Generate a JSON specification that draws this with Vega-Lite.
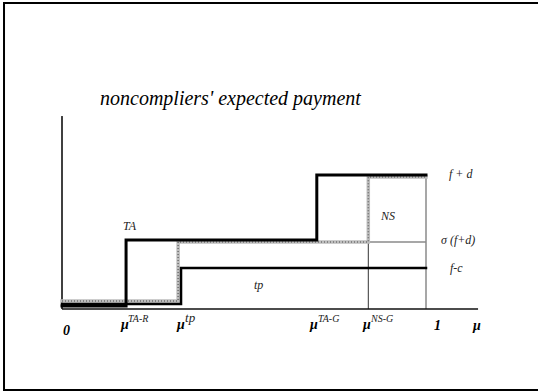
{
  "$schema": "https://vega.github.io/schema/vega-lite/v6.json",
  "width": 538,
  "height": 392,
  "autosize": "none",
  "padding": 0,
  "background": "white",
  "config": {"view": {"stroke": null}},
  "datasets": {
    "paths": [
      {"s": "TA", "i": 1, "mu": 0, "v": 0.022},
      {"s": "TA", "i": 2, "mu": 0.176, "v": 0.022},
      {"s": "TA", "i": 3, "mu": 0.176, "v": 0.515},
      {"s": "TA", "i": 4, "mu": 0.70, "v": 0.515},
      {"s": "TA", "i": 5, "mu": 0.70, "v": 1.0},
      {"s": "TA", "i": 6, "mu": 1.0, "v": 1.0},
      {"s": "NS", "i": 1, "mu": 0, "v": 0.06},
      {"s": "NS", "i": 2, "mu": 0.319, "v": 0.06},
      {"s": "NS", "i": 3, "mu": 0.319, "v": 0.5},
      {"s": "NS", "i": 4, "mu": 0.8415, "v": 0.5},
      {"s": "NS", "i": 5, "mu": 0.8415, "v": 0.985},
      {"s": "NS", "i": 6, "mu": 1.0, "v": 0.985},
      {"s": "tp", "i": 1, "mu": 0, "v": 0.037},
      {"s": "tp", "i": 2, "mu": 0.327, "v": 0.037},
      {"s": "tp", "i": 3, "mu": 0.327, "v": 0.306},
      {"s": "tp", "i": 4, "mu": 1.0, "v": 0.306}
    ],
    "guides": [
      {"g": "yaxis", "mu": 0, "mu2": 0, "v": 0, "v2": 1.44},
      {"g": "xaxis", "mu": 0, "mu2": 1.143, "v": 0, "v2": 0},
      {"g": "nsg", "mu": 0.8415, "mu2": 0.8415, "v": 0, "v2": 0.5},
      {"g": "sigma", "mu": 0.8415, "mu2": 1.0, "v": 0.5, "v2": 0.5},
      {"g": "one", "mu": 1.0, "mu2": 1.0, "v": 0, "v2": 1.0}
    ],
    "frame": [
      {"mu": -0.1593, "mu2": 1.36, "v": 2.2836, "v2": -0.6045}
    ],
    "labels": [
      {"t": "noncompliers' expected payment", "k": "title", "mu": 0.1044, "v": 1.5224},
      {"t": "TA", "k": "lab", "mu": 0.1676, "v": 0.5896},
      {"t": "NS", "k": "lab", "mu": 0.8764, "v": 0.664},
      {"t": "tp", "k": "lab", "mu": 0.5275, "v": 0.149},
      {"t": "f + d", "k": "lab", "mu": 1.0632, "v": 0.9776},
      {"t": "σ (f+d)", "k": "lab", "mu": 1.0412, "v": 0.485},
      {"t": "f-c", "k": "lab", "mu": 1.066, "v": 0.276},
      {"t": "0", "k": "big", "mu": 0.00275, "v": -0.194},
      {"t": "μ", "k": "big", "mu": 0.162, "v": -0.149},
      {"t": "TA-R", "k": "sup", "mu": 0.1813, "v": -0.097},
      {"t": "μ", "k": "big", "mu": 0.316, "v": -0.149},
      {"t": "tp", "k": "supl", "mu": 0.338, "v": -0.097},
      {"t": "μ", "k": "big", "mu": 0.681, "v": -0.149},
      {"t": "TA-G", "k": "sup", "mu": 0.703, "v": -0.097},
      {"t": "μ", "k": "big", "mu": 0.827, "v": -0.149},
      {"t": "NS-G", "k": "sup", "mu": 0.849, "v": -0.097},
      {"t": "1", "k": "big", "mu": 1.022, "v": -0.157},
      {"t": "μ", "k": "big", "mu": 1.129, "v": -0.157}
    ]
  },
  "encoding": {
    "x": {"field": "mu", "type": "quantitative", "scale": {"domain": [-0.17033, 1.30769], "nice": false, "zero": false}, "axis": null},
    "y": {"field": "v", "type": "quantitative", "scale": {"domain": [-0.6194, 2.30597], "nice": false, "zero": false}, "axis": null}
  },
  "layer": [
    {
      "data": {"name": "frame"},
      "mark": {"type": "rect", "fill": null, "stroke": "black", "strokeWidth": 2, "clip": false},
      "encoding": {"x2": {"field": "mu2"}, "y2": {"field": "v2"}}
    },
    {
      "data": {"name": "guides"},
      "transform": [{"filter": "datum.g === 'nsg'"}],
      "mark": {"type": "rule", "color": "#333333", "strokeWidth": 1},
      "encoding": {"x2": {"field": "mu2"}, "y2": {"field": "v2"}}
    },
    {
      "data": {"name": "guides"},
      "transform": [{"filter": "datum.g === 'sigma' || datum.g === 'one'"}],
      "mark": {"type": "rule", "color": "#8a8a8a", "strokeWidth": 1.5},
      "encoding": {"x2": {"field": "mu2"}, "y2": {"field": "v2"}}
    },
    {
      "data": {"name": "guides"},
      "transform": [{"filter": "datum.g === 'yaxis'"}],
      "mark": {"type": "rule", "color": "#404040", "strokeWidth": 2},
      "encoding": {"x2": {"field": "mu2"}, "y2": {"field": "v2"}}
    },
    {
      "data": {"name": "guides"},
      "transform": [{"filter": "datum.g === 'xaxis'"}],
      "mark": {"type": "rule", "color": "#111111", "strokeWidth": 1.5},
      "encoding": {"x2": {"field": "mu2"}, "y2": {"field": "v2"}}
    },
    {
      "data": {"name": "paths"},
      "transform": [{"filter": "datum.s === 'NS'"}],
      "mark": {"type": "line", "color": "#bdbdbd", "strokeWidth": 3.5, "strokeJoin": "miter", "strokeCap": "square"},
      "encoding": {"order": {"field": "i", "type": "quantitative"}}
    },
    {
      "data": {"name": "paths"},
      "transform": [{"filter": "datum.s === 'NS'"}],
      "mark": {"type": "line", "color": "#6e6e6e", "strokeWidth": 1.5, "strokeDash": [1, 2], "strokeJoin": "miter"},
      "encoding": {"order": {"field": "i", "type": "quantitative"}}
    },
    {
      "data": {"name": "paths"},
      "transform": [{"filter": "datum.s === 'tp'"}],
      "mark": {"type": "line", "color": "black", "strokeWidth": 2.5, "strokeJoin": "miter", "strokeCap": "square"},
      "encoding": {"order": {"field": "i", "type": "quantitative"}}
    },
    {
      "data": {"name": "paths"},
      "transform": [{"filter": "datum.s === 'TA'"}],
      "mark": {"type": "line", "color": "black", "strokeWidth": 3, "strokeJoin": "miter", "strokeCap": "square"},
      "encoding": {"order": {"field": "i", "type": "quantitative"}}
    },
    {
      "data": {"name": "labels"},
      "transform": [{"filter": "datum.k === 'title'"}],
      "mark": {"type": "text", "align": "left", "baseline": "alphabetic", "font": "Liberation Serif", "fontStyle": "italic", "fontSize": 20, "color": "black"},
      "encoding": {"text": {"field": "t"}}
    },
    {
      "data": {"name": "labels"},
      "transform": [{"filter": "datum.k === 'lab'"}],
      "mark": {"type": "text", "align": "left", "baseline": "alphabetic", "font": "Liberation Serif", "fontStyle": "italic", "fontSize": 12, "color": "#222222"},
      "encoding": {"text": {"field": "t"}}
    },
    {
      "data": {"name": "labels"},
      "transform": [{"filter": "datum.k === 'big'"}],
      "mark": {"type": "text", "align": "left", "baseline": "alphabetic", "font": "Liberation Serif", "fontStyle": "italic", "fontWeight": "bold", "fontSize": 14, "color": "black"},
      "encoding": {"text": {"field": "t"}}
    },
    {
      "data": {"name": "labels"},
      "transform": [{"filter": "datum.k === 'sup'"}],
      "mark": {"type": "text", "align": "left", "baseline": "alphabetic", "font": "Liberation Serif", "fontStyle": "italic", "fontSize": 10, "color": "#222222"},
      "encoding": {"text": {"field": "t"}}
    },
    {
      "data": {"name": "labels"},
      "transform": [{"filter": "datum.k === 'supl'"}],
      "mark": {"type": "text", "align": "left", "baseline": "alphabetic", "font": "Liberation Serif", "fontStyle": "italic", "fontSize": 13, "color": "#222222"},
      "encoding": {"text": {"field": "t"}}
    }
  ]
}
